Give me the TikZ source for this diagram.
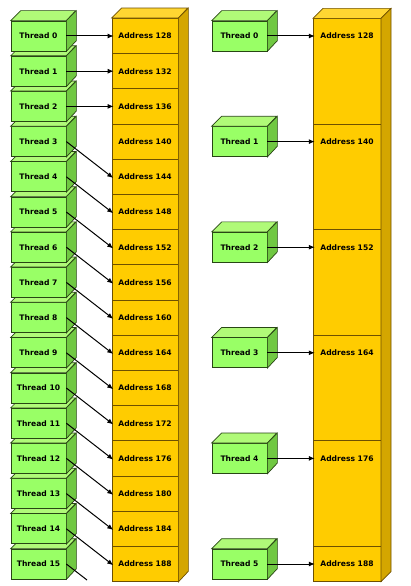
\documentclass[tikz,border=0pt]{standalone}
\usepackage{fontspec}
\setmainfont{DejaVu Sans}
\usetikzlibrary{arrows.meta}
\definecolor{thrfront}{RGB}{153,255,102}
\definecolor{thrtop}{RGB}{176,250,120}
\definecolor{thrside}{RGB}{112,200,66}
\definecolor{thredge}{RGB}{40,70,20}
\definecolor{addrfront}{RGB}{255,204,0}
\definecolor{addrtop}{RGB}{255,214,50}
\definecolor{addrside}{RGB}{212,166,0}
\definecolor{addredge}{RGB}{110,80,0}
\begin{document}
\begin{tikzpicture}[x=1pt,y=-1pt,
  thread/.style={draw=thredge,fill=thrfront,line width=0.7pt,minimum width=55pt,minimum height=30pt,inner sep=0pt,font=\bfseries\fontsize{7.6}{9}\selectfont},
  cell/.style={minimum width=66pt,minimum height=35.2pt,inner sep=0pt,font=\bfseries\fontsize{7.6}{9}\selectfont},
  face/.style={line width=0.7pt},
  link/.style={-{Latex[length=6pt,width=5pt]},line width=1pt,shorten >=-2pt}]
\useasboundingbox (0,0) rectangle (411,586);
\foreach \i in {0,...,15}{
  \pgfmathtruncatemacro\addr{128+4*\i}
  \node[cell,draw=addredge,fill=addrfront,line width=0.7pt] (a\i) at (145,{36+35.2*\i}) {Address \addr};
}
\filldraw[face,draw=addredge,fill=addrtop] (a0.north west) -- ++(10,-10) -- ++(66,0) -- (a0.north east) -- cycle;
\filldraw[face,draw=addredge,fill=addrside] (a0.north east) -- ++(10,-10) -- ++(0,563.2) -- (a15.south east) -- cycle;
\foreach \i in {15,...,0}{
  \node[thread] (t\i) at (38.5,{36+35.2*\i}) {Thread \i};
  \filldraw[face,draw=thredge,fill=thrtop] (t\i.north west) -- ++(10,-10) -- ++(55,0) -- (t\i.north east) -- cycle;
  \filldraw[face,draw=thredge,fill=thrside] (t\i.north east) -- ++(10,-10) -- ++(0,30) -- (t\i.south east) -- cycle;
}
\foreach \i in {0,1,2}
  \draw[link] (t\i.east) -- (a\i.west);
\foreach \i in {3,...,14}{
  \pgfmathtruncatemacro\j{\i+1}
  \draw[link] (t\i.east) -- (a\j.west);
}
\coordinate (t15end) at (87,580);
\draw[line width=1pt] (t15.east) -- (t15end);
\filldraw[face,draw=addredge,fill=addrfront] (313,18.4) rectangle (381,581.6);
\filldraw[face,draw=addredge,fill=addrtop] (313,18.4) -- ++(10,-10) -- ++(68,0) -- (381,18.4) -- cycle;
\filldraw[face,draw=addredge,fill=addrside] (381,18.4) -- ++(10,-10) -- ++(0,563.2) -- (381,581.6) -- cycle;
\foreach \k in {1,...,5}
  \draw[face,draw=addredge] (313,{18.4+105.6*\k}) -- (381,{18.4+105.6*\k});
\foreach \k in {0,...,5}{
  \pgfmathtruncatemacro\addr{128+12*\k}
  \node[cell,minimum width=68pt] (b\k) at (347,{36+105.6*\k}) {Address \addr};
  \node[thread] (u\k) at (239.5,{36+105.6*\k}) {Thread \k};
  \filldraw[face,draw=thredge,fill=thrtop] (u\k.north west) -- ++(10,-10) -- ++(55,0) -- (u\k.north east) -- cycle;
  \filldraw[face,draw=thredge,fill=thrside] (u\k.north east) -- ++(10,-10) -- ++(0,30) -- (u\k.south east) -- cycle;
  \draw[link] (u\k.east) -- (b\k.west);
}
\end{tikzpicture}
\end{document}
